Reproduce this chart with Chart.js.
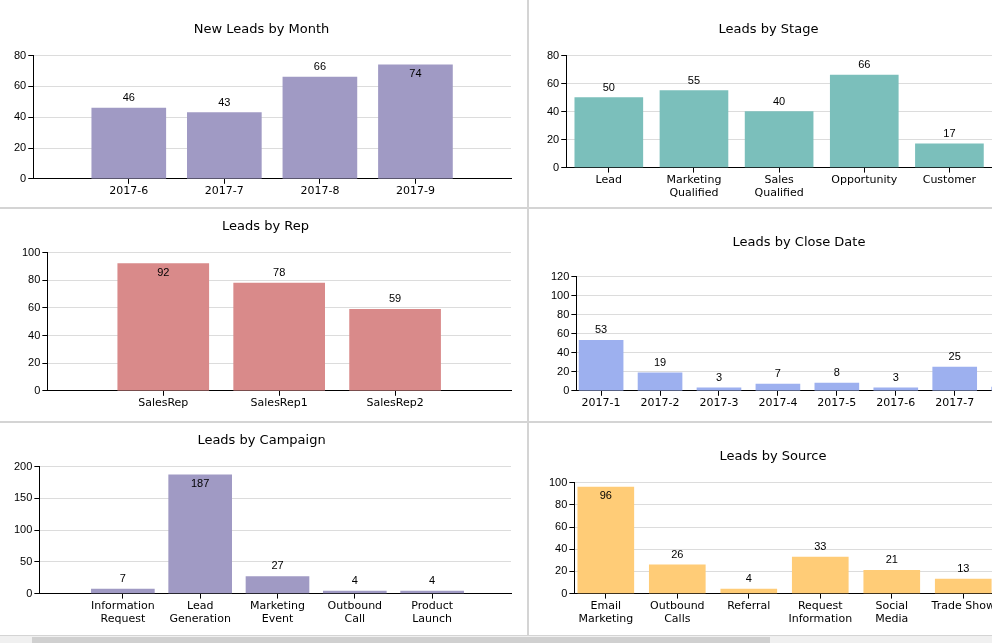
<!DOCTYPE html>
<html><head><meta charset="utf-8">
<script src="https://cdn.jsdelivr.net/npm/chart.js@4.4.0/dist/chart.umd.min.js"></script>
<style>
body{margin:0;background:#fff;width:992px;height:643px;overflow:hidden;position:relative;font-family:"DejaVu Sans",sans-serif}
.p{position:absolute;overflow:hidden;background:#fff}
.p canvas{position:absolute;left:0;top:0}
.v{position:absolute;background:#d4d4d4}
</style></head><body>
<div class="p" style="left:0;top:0;width:527px;height:207px"><canvas id="c1" width="527" height="207"></canvas></div>
<div class="p" style="left:529px;top:0;width:463px;height:207px"><canvas id="c2" width="463" height="207"></canvas></div>
<div class="p" style="left:0;top:209px;width:527px;height:212px"><canvas id="c3" width="527" height="212"></canvas></div>
<div class="p" style="left:529px;top:209px;width:463px;height:212px"><canvas id="c4" width="520" height="212"></canvas></div>
<div class="p" style="left:0;top:423px;width:527px;height:212px"><canvas id="c5" width="527" height="212"></canvas></div>
<div class="p" style="left:529px;top:423px;width:463px;height:212px"><canvas id="c6" width="470" height="212"></canvas></div>
<div class="v" style="left:527px;top:0;width:2px;height:636px"></div>
<div class="v" style="left:0;top:207px;width:992px;height:2px"></div>
<div class="v" style="left:0;top:421px;width:992px;height:2px"></div>
<div class="v" style="left:0;top:635px;width:992px;height:1px"></div>
<div style="position:absolute;left:0;top:636px;width:992px;height:7px;background:#f0f0f0"></div>
<div style="position:absolute;left:32px;top:637px;width:738px;height:6px;background:#d0d0d0"></div>
<script>
// data
var monthLabels = ["2017-6","2017-7","2017-8","2017-9"];
var monthValues = [46, 43, 66, 74];
var stageLabels = ["Lead",["Marketing","Qualified"],["Sales","Qualified"],"Opportunity","Customer"];
var stageValues = [50, 55, 40, 66, 17];
var repLabels = ["SalesRep","SalesRep1","SalesRep2"];
var repValues = [92, 78, 59];
var closeLabels = ["2017-1","2017-2","2017-3","2017-4","2017-5","2017-6","2017-7","2017-8"];
var closeValues = [53, 19, 3, 7, 8, 3, 25, 4];
var campaignLabels = [["Information","Request"],["Lead","Generation"],["Marketing","Event"],["Outbound","Call"],["Product","Launch"]];
var campaignValues = [7, 187, 27, 4, 4];
var sourceLabels = [["Email","Marketing"],["Outbound","Calls"],"Referral",["Request","Information"],["Social","Media"],"Trade Show"];
var sourceValues = [96, 26, 4, 33, 21, 13];

var valueLabels = {
  id: 'valueLabels',
  afterDatasetsDraw: function(chart){
    var ctx = chart.ctx, meta = chart.getDatasetMeta(0);
    ctx.save();
    ctx.font = '11px "Liberation Sans", Arial, sans-serif';
    ctx.fillStyle = '#000';
    ctx.textAlign = 'center';
    meta.data.forEach(function(bar, i){
      var v = chart.data.datasets[0].data[i].y;
      var y = bar.y - 7;
      if (y - 8 < chart.chartArea.top) y = bar.y + 12;
      ctx.fillText(v, bar.x, y);
    });
    ctx.restore();
  }
};

function make(id, title, labels, values, color, opt){
  new Chart(document.getElementById(id), {
    type: 'bar',
    data: { datasets: [{ data: values.map(function(v,i){return {x:i,y:v};}),
      backgroundColor: color, barThickness: opt.bar, maxBarThickness: opt.bar }] },
    plugins: [valueLabels],
    options: {
      responsive: false, animation: false,
      datasets: { bar: { barThickness: opt.bar } },
      layout: { padding: opt.pad },
      plugins: { legend: {display:false}, tooltip:{enabled:false},
        title: { display:true, text:title, color:'#000', font:{family:'"DejaVu Sans"',size:13,weight:'normal'}, padding:{top:opt.tt,bottom:opt.tb} } },
      scales: {
        x: { type:'linear', min:opt.min, max:opt.max, offset:false,
          afterBuildTicks: function(s){ s.ticks = labels.map(function(l,i){return {value:i};}); },
          ticks: { autoSkip:false, maxRotation:0, color:'#000', padding:1,
            font:{family:'"DejaVu Sans"',size:11}, callback:function(v){ return labels[v]; } },
          grid: { drawOnChartArea:false, offset:false, color:'#000', tickLength:5 },
          border: { color:'#000' } },
        y: { min:0, max:opt.ymax, ticks:{ stepSize:opt.step, color:'#000', padding:2,
            font:{family:'"Liberation Sans"',size:11} },
          grid: { color:'#dcdcdc', tickColor:'#000', tickLength:5 },
          border: { color:'#000' } }
      }
    }
  });
}

make('c1','New Leads by Month',monthLabels,monthValues,'#a09ac4',{bar:74,min:-1,max:4,ymax:80,step:20,tt:22,tb:18,pad:{left:12,right:16,bottom:8}});
make('c2','Leads by Stage',stageLabels,stageValues,'#7bbfbb',{bar:68,min:-0.5,max:4.5,ymax:80,step:20,tt:22,tb:18,pad:{left:16,right:0,bottom:6}});
make('c3','Leads by Rep',repLabels,repValues,'#d98a8a',{bar:91,min:-1,max:3,ymax:100,step:20,tt:10,tb:18,pad:{left:20,right:16,bottom:10}});
make('c4','Leads by Close Date',closeLabels,closeValues,'#9db0ef',{bar:44,min:-0.42,max:7.6,ymax:120,step:20,tt:26,tb:26,pad:{left:20,right:0,bottom:10}});
make('c5','Leads by Campaign',campaignLabels,campaignValues,'#a09ac4',{bar:63,min:-1.08,max:5.02,ymax:200,step:50,tt:10,tb:18,pad:{left:12,right:16,bottom:8}});
make('c6','Leads by Source',sourceLabels,sourceValues,'#ffcc77',{bar:56,min:-0.44,max:5.5,ymax:100,step:20,tt:26,tb:18,pad:{left:18,right:0,bottom:8}});
</script>
</body></html>
